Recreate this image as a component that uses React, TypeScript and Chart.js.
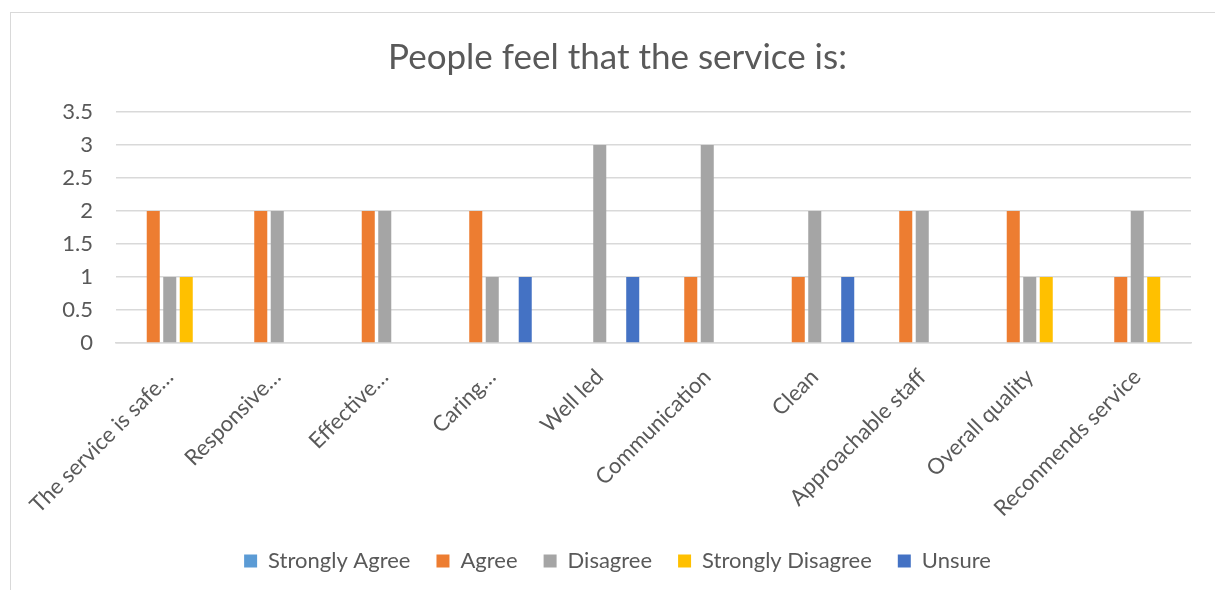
import React, { useEffect, useRef } from "react";
import { Chart, registerables } from "chart.js";

Chart.register(...registerables);

const titleText = "People feel that the service is:";
const categories = [
  "The service is safe…",
  "Responsive…",
  "Effective…",
  "Caring…",
  "Well led",
  "Communication",
  "Clean",
  "Approachable staff",
  "Overall quality",
  "Reconmends service",
];
const seriesNames = ["Strongly Agree", "Agree", "Disagree", "Strongly Disagree", "Unsure"];
const stronglyAgree = [0, 0, 0, 0, 0, 0, 0, 0, 0, 0];
const agree = [2, 2, 2, 2, 0, 1, 1, 2, 2, 1];
const disagree = [1, 2, 2, 1, 3, 3, 2, 2, 1, 2];
const stronglyDisagree = [1, 0, 0, 0, 0, 0, 0, 0, 1, 1];
const unsure = [0, 0, 0, 1, 1, 0, 1, 0, 0, 0];
const seriesColors = ["#5B9BD5", "#ED7D31", "#A5A5A5", "#FFC000", "#4472C4"];
const yTicks = [0, 0.5, 1, 1.5, 2, 2.5, 3, 3.5];

const FONT = "Lato, 'Open Sans', sans-serif";
const TEXT = "#595959";
const GRID = "#d9d9d9";

export default function App() {
  const ref = useRef<HTMLCanvasElement | null>(null);

  useEffect(() => {
    if (!ref.current) return;
    const values = [stronglyAgree, agree, disagree, stronglyDisagree, unsure];
    const chart = new Chart(ref.current, {
      type: "bar",
      data: {
        labels: categories,
        datasets: seriesNames.map((name, i) => ({
          label: name,
          data: values[i],
          backgroundColor: seriesColors[i],
          borderWidth: 0,
          categoryPercentage: 0.767,
          barPercentage: 0.79,
        })),
      },
      options: {
        responsive: false,
        animation: false,
        maintainAspectRatio: false,
        layout: { padding: { left: 0, right: 0, top: 0, bottom: 20 } },
        plugins: {
          title: {
            display: true,
            text: titleText,
            color: TEXT,
            font: { family: FONT, size: 35, weight: "normal" },
            padding: { top: 25, bottom: 33 },
          },
          legend: {
            position: "bottom",
            labels: {
              color: TEXT,
              font: { family: FONT, size: 22 },
              boxWidth: 13,
              boxHeight: 13,
              padding: 26,
            },
          },
          tooltip: { enabled: false },
        },
        scales: {
          x: {
            grid: { display: false, drawTicks: false },
            border: { display: true, color: GRID, width: 1.5 },
            ticks: {
              color: TEXT,
              font: { family: FONT, size: 22 },
              minRotation: 45,
              maxRotation: 45,
              autoSkip: false,
              padding: 21,
            },
            afterFit: (scale: any) => {
              scale.height = 181;
              scale.paddingLeft = 0;
              scale.paddingRight = 34;
            },
          },
          y: {
            min: 0,
            max: 3.5,
            afterBuildTicks: (scale: any) => {
              scale.ticks = yTicks.map((v) => ({ value: v }));
            },
            grid: { color: GRID, lineWidth: 1.5, drawTicks: false },
            border: { display: false },
            ticks: {
              color: TEXT,
              font: { family: FONT, size: 22 },
              padding: 23,
              callback: (v: any) => String(v),
            },
            afterFit: (scale: any) => {
              scale.width = 106;
            },
          },
        },
      },
    });
    return () => chart.destroy();
  }, []);

  return (
    <div
      style={{
        position: "absolute",
        left: 0,
        top: 0,
        width: 1215,
        height: 590,
        overflow: "hidden",
        background: "#fff",
      }}
    >
      <div
        style={{
          position: "absolute",
          left: 10,
          top: 12,
          width: 1215,
          height: 600,
          border: `1.5px solid ${GRID}`,
          boxSizing: "border-box",
        }}
      />
      <canvas
        ref={ref}
        width={1215}
        height={590}
        style={{ display: "block", position: "absolute", left: 10, top: 12 }}
      />
    </div>
  );
}
